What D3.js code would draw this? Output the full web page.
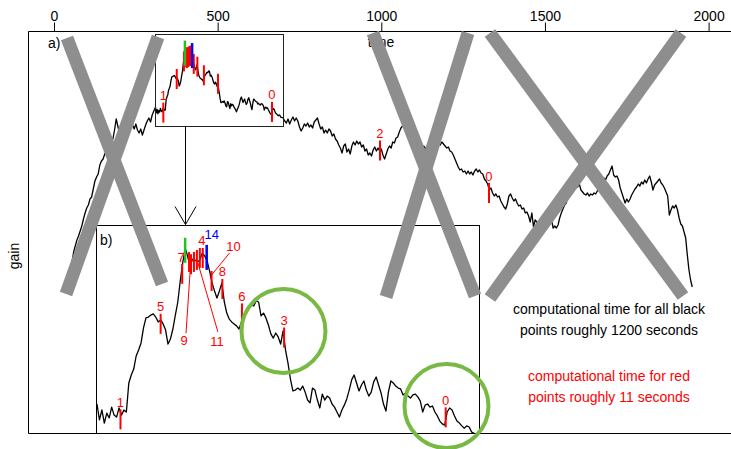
<!DOCTYPE html>
<html>
<head>
<meta charset="utf-8">
<script src="https://cdn.jsdelivr.net/npm/d3@7"></script>
<style>
  body { margin: 0; background: #fff; }
  svg { display: block; }
  text { font-family: "Liberation Sans", Arial, Helvetica, sans-serif; }
</style>
</head>
<body>
<svg id="chart" width="731" height="449"></svg>
<script>
// ---- data ----
const tickValues = [0, 500, 1000, 1500, 2000];

// gain before the zoomed window: t = 45, 50, ... 305
const earlyStart = 45, earlyStep = 5;
const gainEarly = [
  15.0,16.0,17.2,18.2,18.8,19.4,19.8,20.3,20.8,21.5,
  22.1,22.6,22.9,23.5,23.7,24.5,25.3,25.7,26.0,26.9,
  27.3,27.5,28.0,28.2,28.4,28.8,29.2,29.5,30.4,31.5,
  30.8,30.1,30.5,30.8,30.2,30.6,30.4,30.9,31.3,30.9,
  30.5,31.0,30.4,30.1,30.5,29.9,30.4,30.9,31.3,31.6,
  31.2,31.9,32.3
];

// gain inside the zoomed window (finer sampling): t = 310, 312.5, ... 695
const windowStart = 310, windowStep = 2.5;
const gainWindow = [
  32.68,32.12,32.47,32.01,32.36,32.19,32.57,32.29,32.22,32.54,
  32.29,32.47,32.40,33.42,33.70,33.91,34.37,34.58,34.83,35.36,
  35.71,35.74,35.81,35.85,35.74,35.57,35.64,35.50,35.29,34.79,
  34.97,35.32,35.81,36.27,37.01,37.64,38.17,37.89,37.50,37.78,
  37.75,37.68,37.75,37.99,37.89,37.71,37.36,36.94,36.66,36.41,
  36.66,36.94,36.27,35.88,35.67,35.57,35.50,35.43,35.32,35.57,
  35.78,35.92,36.03,36.17,36.13,36.31,36.27,35.78,35.88,35.71,
  35.46,35.15,35.00,35.18,35.04,34.79,35.25,34.58,34.12,33.56,
  33.14,33.17,33.24,33.17,33.31,33.10,32.82,32.72,33.24,33.17,
  32.82,32.54,33.03,32.82,32.96,32.89,32.68,32.57,32.40,32.22,
  32.47,32.64,32.86,33.17,33.53,33.70,33.42,33.14,33.35,33.49,
  33.17,32.96,33.10,33.46,33.63,33.35,33.07,32.68,32.43,33.10,
  33.49,33.42,33.31,33.24,33.21,33.00,33.07,32.96,32.89,33.00,
  33.03,32.93,32.79,32.40,32.64,32.68,32.57,32.61,32.40,32.26,
  32.08,31.98,31.94,32.40,32.54,32.47,32.26,32.08,32.01,31.91,
  31.83,31.91,31.87,31.69,31.66
];

// gain after the zoomed window: t = 700, 705, ... 1950
const lateStart = 700, lateStep = 5;
const gainLate = [
  31.6,
  31.3,31.1,31.5,31.0,31.4,31.7,31.3,31.6,31.3,30.7,
  30.3,30.6,31.0,30.8,31.1,30.7,30.9,30.6,31.2,31.4,
  31.6,31.0,30.5,30.7,30.1,30.4,30.1,30.5,30.3,29.8,
  30.0,29.5,29.3,28.9,28.6,28.1,28.8,29.0,28.2,28.5,
  28.0,28.8,29.2,28.9,29.3,29.0,29.2,28.7,28.9,28.3,
  28.5,27.9,28.1,27.8,28.4,28.7,28.3,28.6,28.3,28.5,
  27.9,27.5,28.0,28.5,28.8,28.6,29.2,29.1,29.6,29.7,
  30.2,30.6,30.8,31.0,30.7,30.8,30.4,30.1,29.8,29.9,
  29.5,29.3,29.4,29.0,28.7,28.8,28.5,28.8,28.5,28.3,
  28.8,28.9,28.6,28.9,29.1,28.9,29.2,29.0,28.8,28.6,
  28.7,28.3,28.2,27.9,27.5,27.1,26.7,26.4,26.5,26.2,
  26.3,26.0,26.3,26.0,26.2,25.9,26.3,26.5,26.2,26.4,
  26.1,26.0,25.5,25.3,25.0,24.4,24.6,24.1,23.8,24.0,
  23.7,23.8,23.3,23.0,22.7,22.5,23.0,23.8,24.0,23.6,
  23.3,23.5,23.1,22.8,22.9,22.5,22.6,22.1,22.2,21.8,
  21.2,22.1,20.7,21.4,21.2,20.9,21.1,20.8,21.0,20.7,
  20.9,21.2,21.0,21.4,20.6,20.8,20.6,20.9,21.6,22.1,
  22.5,22.9,23.1,23.8,24.3,24.6,24.8,24.5,24.9,24.7,
  25.0,24.4,24.2,24.0,23.9,24.1,23.8,24.0,23.9,24.1,
  24.0,24.3,24.8,25.1,25.4,25.6,25.4,25.8,26.0,26.4,
  26.8,25.9,25.7,25.8,25.4,24.6,24.1,23.6,23.1,23.5,
  23.2,23.5,23.9,24.2,24.5,24.7,25.0,24.8,25.2,25.0,
  25.4,25.1,25.5,25.8,25.2,24.4,24.9,25.1,25.3,25.5,
  25.1,24.9,24.6,24.2,23.8,21.9,22.4,22.8,22.6,22.9,
  22.4,21.6,21.0,20.8,20.2,19.6,17.9,16.4,15.4,14.7
];

// evaluated points inside the zoomed window (shown in both panels)
const zoomMarkTime  = [334, 375, 397, 400, 404, 406, 409, 412, 415, 418, 422, 427, 438, 458, 501, 666];
const zoomMarkGain  = [32.14, 35.50, 37.26, 38.09, 37.68, 37.60, 37.68, 37.75, 37.82, 37.82, 37.84, 37.01, 36.73, 35.87, 35.02, 32.21];
const zoomMarkColor = ["red","red","red","green","red","red","red","red","red","red","blue","red","red","red","red","red"];
const zoomMarkLabel = ["1","5","7","","","9","","11","","4","14","10","8","6","3","0"];
const overviewLabel = ["1","","","","","","","","","","","","","","","0"];

// evaluated points outside the zoomed window
const farMarkTime  = [996, 1329];
const farMarkGain  = [28.35, 24.1];
const farMarkLabel = ["2", "0"];

// zoom window (time range, gain range of the outline and of panel b)
const windowTime = [309, 700];
const outlineGain = [30.8, 40.0];
const panelGain = [31.66, 38.98];

// circled regions in panel b
const circleTime = [500.4, 666.8];
const circleGain = [35.25, 32.61];

// crossed-out strokes: [t1, t2] and [g1, g2]
const crossTime = [[39.7, 330], [317.8, 36.7], [974.6, 1286.3], [1264.9, 1014.4], [1332, 1921.8], [1915.7, 1332]];
const crossGain = [[39.6, 15.0], [39.7, 14.0], [40.1, 13.8], [40.1, 13.7], [40.1, 13.8], [40.1, 13.6]];

const noteBlack = ["computational time for all black", "points roughly 1200 seconds"];
const noteRed = ["computational time for red", "points roughly 11 seconds"];

// ---- layout ----
const frame = { left: 28.5, top: 31.5, bottom: 433.5, right: 800 };
const panelB = { left: 96.5, right: 479.5, top: 225.5, bottom: 433.5 };
const COLORS = { red: "#ff0000", green: "#22c022", blue: "#0000ff" };
const circleGreen = "#78b943";
const crossGray = "#8e8e8e";

const svg = d3.select("#chart");

const x = d3.scaleLinear().domain([0, 2000]).range([54, 708.6]);
const y = d3.scaleLinear().domain([0, 40.3]).range([434, 31]);
const xb = d3.scaleLinear().domain(windowTime).range([96, 479]);
const yb = d3.scaleLinear().domain(panelGain).range([433, 225]);

const toPoints = (arr, start, step) => arr.map((g, i) => ({ t: start + i * step, g }));
const earlyPts = toPoints(gainEarly, earlyStart, earlyStep);
const windowPts = toPoints(gainWindow, windowStart, windowStep);
const latePts = toPoints(gainLate, lateStart, lateStep);
const series = earlyPts.concat(windowPts, latePts);

// frame
svg.append("path")
  .attr("d", `M${frame.right},${frame.top}H${frame.left}V${frame.bottom}H${frame.right}`)
  .attr("fill", "none").attr("stroke", "#000").attr("stroke-width", 1);

// top time axis
const axis = svg.append("g").attr("transform", `translate(0,${frame.top})`)
  .call(d3.axisTop(x).tickValues(tickValues).tickSize(9).tickPadding(2).tickFormat(d3.format("d")));
axis.select(".domain").remove();
axis.selectAll("line").attr("stroke", "#000");
axis.selectAll("text").attr("font-size", 14).attr("fill", "#000")
  .attr("font-family", '"Liberation Sans", Arial, sans-serif');

svg.append("text").attr("x", 381).attr("y", 47).attr("text-anchor", "middle")
  .attr("font-size", 14).text("time");
svg.append("text").attr("transform", "translate(19,256) rotate(-90)")
  .attr("text-anchor", "middle").attr("font-size", 14).text("gain");
svg.append("text").attr("x", 48).attr("y", 48).attr("font-size", 14).text("a)");

// overview series
const line = d3.line().x(d => x(d.t)).y(d => y(d.g));
svg.append("path").datum(series).attr("d", line)
  .attr("fill", "none").attr("stroke", "#000").attr("stroke-width", 1.3).attr("stroke-linejoin", "round");

// zoom window outline
const ax0 = Math.round(x(windowTime[0])) + 0.5, ax1 = Math.round(x(windowTime[1])) + 0.5;
const ay0 = Math.round(y(outlineGain[1])) + 0.5, ay1 = Math.round(y(outlineGain[0])) + 0.5;
svg.append("rect").attr("x", ax0).attr("y", ay0).attr("width", ax1 - ax0).attr("height", ay1 - ay0)
  .attr("fill", "none").attr("stroke", "#222").attr("stroke-width", 1);

// marks drawn as short vertical ticks centred on their value
function drawMarks(g, times, gains, colors, sx, sy) {
  const idx = d3.range(times.length).sort((a, b) => (colors[a] === "red" ? 0 : 1) - (colors[b] === "red" ? 0 : 1));
  idx.forEach(i => {
    const half = colors[i] === "red" ? 10 : 12.5;
    const cx = sx(times[i]), cy = sy(gains[i]);
    g.append("line").attr("x1", cx).attr("x2", cx).attr("y1", cy - half).attr("y2", cy + half)
      .attr("stroke", COLORS[colors[i]]).attr("stroke-width", colors[i] === "red" ? 2 : 2.5);
  });
}
const overviewMarks = svg.append("g");
drawMarks(overviewMarks, zoomMarkTime, zoomMarkGain, zoomMarkColor, x, y);
drawMarks(overviewMarks, farMarkTime, farMarkGain, farMarkTime.map(() => "red"), x, y);

function addLabel(g, text, cx, cy, color, dx, dy) {
  g.append("text").attr("x", cx + dx).attr("y", cy + dy).attr("text-anchor", "middle")
    .attr("font-size", 13).attr("fill", color).text(text);
}
zoomMarkTime.forEach((t, i) => {
  if (overviewLabel[i]) addLabel(overviewMarks, overviewLabel[i], x(t), y(zoomMarkGain[i]), COLORS.red, 0, -12.5);
});
farMarkTime.forEach((t, i) => addLabel(overviewMarks, farMarkLabel[i], x(t), y(farMarkGain[i]), COLORS.red, 0, -12.5));

// arrow from the outline to panel b
const arrowX = Math.round(x(400)) + 0.5;
svg.append("line").attr("x1", arrowX).attr("x2", arrowX).attr("y1", ay1).attr("y2", panelB.top - 1)
  .attr("stroke", "#000").attr("stroke-width", 1);
svg.append("path").attr("d", `M${arrowX - 10.5},${panelB.top - 19}L${arrowX},${panelB.top - 1}L${arrowX + 10.5},${panelB.top - 19}`)
  .attr("fill", "none").attr("stroke", "#000").attr("stroke-width", 1);

// panel b
svg.append("rect").attr("x", panelB.left).attr("y", panelB.top)
  .attr("width", panelB.right - panelB.left).attr("height", panelB.bottom - panelB.top)
  .attr("fill", "#fff").attr("stroke", "#000").attr("stroke-width", 1);
svg.append("text").attr("x", 100).attr("y", 245).attr("font-size", 14).text("b)");

const lineB = d3.line().x(d => xb(d.t)).y(d => yb(d.g));
svg.append("path").datum(windowPts).attr("d", lineB)
  .attr("fill", "none").attr("stroke", "#000").attr("stroke-width", 1.3).attr("stroke-linejoin", "round");

const panelMarks = svg.append("g");
drawMarks(panelMarks, zoomMarkTime, zoomMarkGain, zoomMarkColor, xb, yb);

// label placement in panel b (offsets in px from the mark centre)
const labelOffset = {
  "9":  { dx: -7, dy: 81,   leader: [[0, -6], [-5, 69]] },
  "11": { dx: 20, dy: 85.6, leader: [[1, 3], [21, 72]] },
  "10": { dx: 22, dy: -30.4, leader: [[0, -6], [18, -28]] },
  "14": { dx: 5, dy: -18 },
  "4":  { dx: -1, dy: -13 },
  "7":  { dx: -1, dy: -12 }
};
zoomMarkTime.forEach((t, i) => {
  const lab = zoomMarkLabel[i];
  if (!lab) return;
  const cx = xb(t), cy = yb(zoomMarkGain[i]);
  const o = labelOffset[lab] || { dx: 0, dy: -12.5 };
  const col = COLORS[zoomMarkColor[i]];
  if (o.leader) {
    panelMarks.append("line")
      .attr("x1", cx + o.leader[0][0]).attr("y1", cy + o.leader[0][1])
      .attr("x2", cx + o.leader[1][0]).attr("y2", cy + o.leader[1][1])
      .attr("stroke", col).attr("stroke-width", 1);
  }
  addLabel(panelMarks, lab, cx, cy, col, o.dx, o.dy);
});

// circled regions
circleTime.forEach((t, i) => {
  svg.append("circle").attr("cx", xb(t)).attr("cy", yb(circleGain[i])).attr("r", 42)
    .attr("fill", "none").attr("stroke", circleGreen).attr("stroke-width", 4);
});

// notes
noteBlack.forEach((s, i) => svg.append("text").attr("x", 609).attr("y", 314 + i * 21)
  .attr("text-anchor", "middle").attr("font-size", 14).attr("fill", "#000").text(s));
noteRed.forEach((s, i) => svg.append("text").attr("x", 609).attr("y", 381 + i * 21)
  .attr("text-anchor", "middle").attr("font-size", 14).attr("fill", COLORS.red).text(s));

// crossed-out strokes
crossTime.forEach((tt, i) => {
  svg.append("line")
    .attr("x1", x(tt[0])).attr("y1", y(crossGain[i][0]))
    .attr("x2", x(tt[1])).attr("y2", y(crossGain[i][1]))
    .attr("stroke", crossGray).attr("stroke-width", 13).attr("stroke-linecap", "butt");
});
</script>
</body>
</html>
